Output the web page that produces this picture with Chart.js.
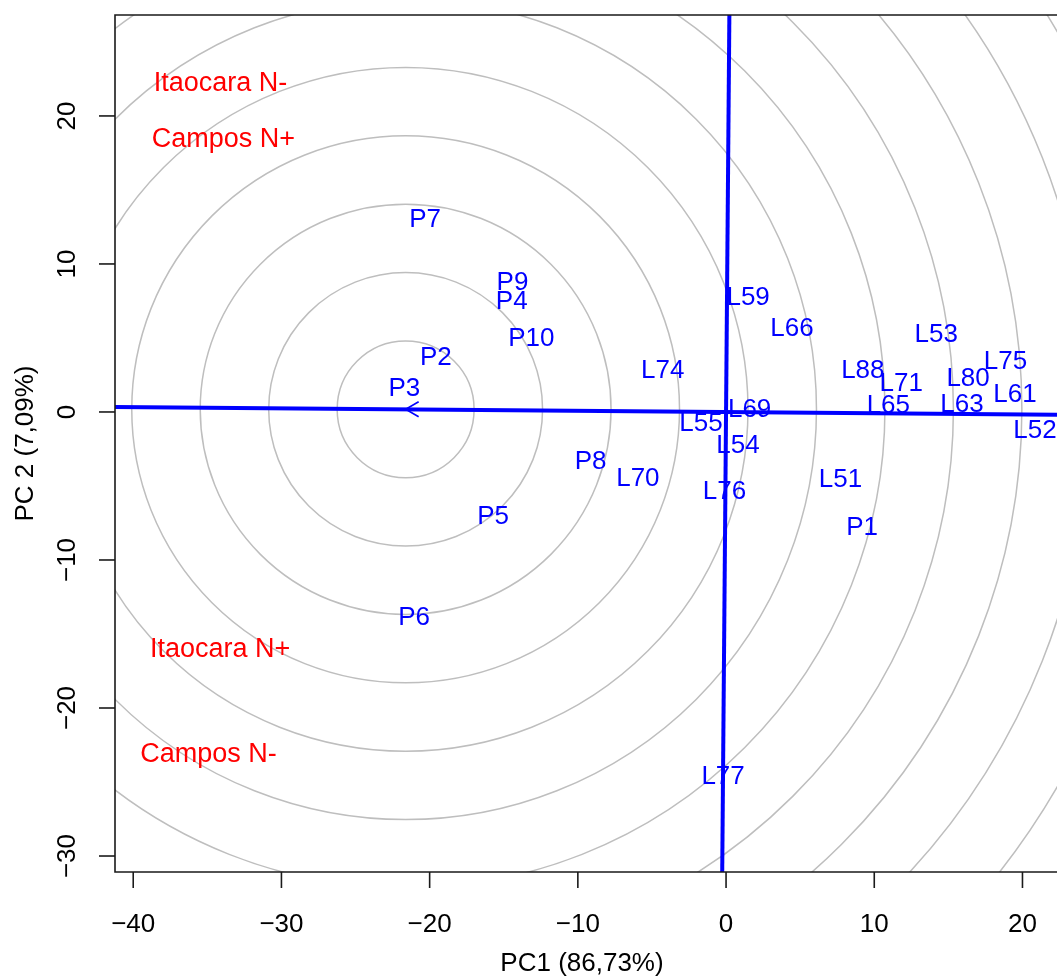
<!DOCTYPE html>
<html>
<head>
<meta charset="utf-8">
<script src="https://cdn.jsdelivr.net/npm/chart.js@4.4.0/dist/chart.umd.min.js"></script>
<style>
    html, body { margin: 0; padding: 0; background: #fff; }
    #wrap { width: 1057px; height: 976px; }
</style>
</head>
<body>
<div id="wrap"><canvas id="biplot" width="1057" height="976"></canvas></div>
<script>
// genotipos (PC1, PC2)
const genNames = ["P1", "P2", "P3", "P4", "P5", "P6", "P7", "P8", "P9", "P10",
    "L51", "L52", "L53", "L54", "L55", "L59", "L61", "L63", "L65", "L66",
    "L69", "L70", "L71", "L74", "L75", "L76", "L77", "L80", "L88"];
const genPC1 = [9.18, -19.58, -21.71, -14.46, -15.72, -21.05, -20.31, -9.14, -14.41, -13.14,
    7.72, 20.84, 14.18, 0.81, -1.69, 1.49, 19.5, 15.92, 10.95, 4.45,
    1.59, -5.95, 11.82, -4.27, 18.85, -0.11, -0.2, 16.33, 9.23];
const genPC2 = [-7.7, 3.82, 1.69, 7.61, -6.96, -13.78, 13.11, -3.2, 8.85, 5.09,
    -4.46, -1.14, 5.39, -2.12, -0.66, 7.84, 1.28, 0.61, 0.54, 5.76,
    0.3, -4.39, 2.05, 2.91, 3.53, -5.27, -24.53, 2.41, 2.95];

// ambientes
const envNames = ["Itaocara N-", "Campos N+", "Itaocara N+", "Campos N-"];
const envPC1 = [-34.11, -33.92, -34.14, -34.92];
const envPC2 = [22.32, 18.59, -15.93, -23.02];

// ambiente medio (seta) e circulos
const envMean = [-21.62, 0.18];
const ringStep = 4.62;
const ringCount = 12;

// eixos
const xTicks = [-40, -30, -20, -10, 0, 10, 20];
const yTicks = [-30, -20, -10, 0, 10, 20];
const xRange = [-41.23, 22.33];
const yRange = [-31.08, 26.82];
const xTitle = "PC1 (86,73%)";
const yTitle = "PC 2 (7,09%)";

const FONT = '"Liberation Sans", Arial, Helvetica, sans-serif';
const BLUE = "#0000FF";
const RED = "#FF0000";

// linha do ambiente medio (passa pela origem) e a perpendicular
const slope = envMean[1] / envMean[0];
const aecLine = xRange.map(x => ({x: x, y: slope * x}));
const aecPerp = yRange.map(y => ({x: -slope * y, y: y}));

const minus = (v) => String(v).replace("-", "\u2212");

//-----------------------
const ringsPlugin = {
    id: "rings",
    beforeDatasetsDraw: (chart) => {
        const {ctx, chartArea, scales} = chart;
        const cx = scales.x.getPixelForValue(envMean[0]);
        const cy = scales.y.getPixelForValue(envMean[1]);
        ctx.save();
        ctx.beginPath();
        ctx.rect(chartArea.left, chartArea.top, chartArea.right - chartArea.left, chartArea.bottom - chartArea.top);
        ctx.clip();
        ctx.strokeStyle = "#BEBEBE";
        ctx.lineWidth = 1.5;
        for (let k = 1; k <= ringCount; k++) {
            const rx = scales.x.getPixelForValue(envMean[0] + k * ringStep) - cx;
            const ry = cy - scales.y.getPixelForValue(envMean[1] + k * ringStep);
            ctx.beginPath();
            ctx.ellipse(cx, cy, rx, ry, 0, 0, Math.PI * 2);
            ctx.stroke();
        }
        ctx.restore();
    }
};

//-----------------------
const labelsPlugin = {
    id: "labels",
    afterDatasetsDraw: (chart) => {
        const {ctx, scales} = chart;
        ctx.save();
        ctx.textAlign = "center";
        ctx.textBaseline = "alphabetic";

        // seta do ambiente medio
        const ax = scales.x.getPixelForValue(envMean[0]);
        const ay = scales.y.getPixelForValue(envMean[1]);
        ctx.strokeStyle = BLUE;
        ctx.lineWidth = 1.6;
        ctx.beginPath();
        ctx.moveTo(ax + 13, ay - 7.5);
        ctx.lineTo(ax, ay);
        ctx.lineTo(ax + 13, ay + 7.5);
        ctx.stroke();

        const gen = chart.getDatasetMeta(0).data;
        ctx.fillStyle = BLUE;
        ctx.font = `26px ${FONT}`;
        gen.forEach((pt, i) => {
            ctx.fillText(genNames[i], pt.x, pt.y + 26 * 0.36);
        });

        const env = chart.getDatasetMeta(1).data;
        ctx.fillStyle = RED;
        ctx.font = `27px ${FONT}`;
        env.forEach((pt, i) => {
            ctx.fillText(envNames[i], pt.x, pt.y + 27 * 0.36);
        });
        ctx.restore();
    }
};

//-----------------------
const axesPlugin = {
    id: "rAxes",
    afterDraw: (chart) => {
        const {ctx, chartArea, scales} = chart;
        const {left, top, right, bottom} = chartArea;
        ctx.save();
        ctx.strokeStyle = "#1a1a1a";
        ctx.lineWidth = 1.6;
        ctx.beginPath();
        ctx.moveTo(right + 2, top);
        ctx.lineTo(left, top);
        ctx.lineTo(left, bottom);
        ctx.lineTo(right + 2, bottom);
        ctx.stroke();

        ctx.fillStyle = "#000";
        ctx.font = `26px ${FONT}`;
        ctx.textAlign = "center";
        ctx.textBaseline = "alphabetic";

        xTicks.forEach(v => {
            const px = scales.x.getPixelForValue(v);
            ctx.beginPath();
            ctx.moveTo(px, bottom);
            ctx.lineTo(px, bottom + 16);
            ctx.stroke();
            ctx.fillText(minus(v), px, bottom + 51 + 26 * 0.36);
        });

        yTicks.forEach(v => {
            const py = scales.y.getPixelForValue(v);
            ctx.beginPath();
            ctx.moveTo(left, py);
            ctx.lineTo(left - 16, py);
            ctx.stroke();
            ctx.save();
            ctx.translate(left - 49, py);
            ctx.rotate(-Math.PI / 2);
            ctx.fillText(minus(v), 0, 26 * 0.36);
            ctx.restore();
        });

        // titulos
        ctx.fillText(xTitle, 582, bottom + 90 + 26 * 0.36);
        ctx.save();
        ctx.translate(left - 91, (top + bottom) / 2);
        ctx.rotate(-Math.PI / 2);
        ctx.fillText(yTitle, 0, 26 * 0.36);
        ctx.restore();
        ctx.restore();
    }
};

//-----------------------
const biplot = new Chart(document.getElementById("biplot"), {
    type: "scatter",
    data: {
        datasets: [
            {
                label: "Genotipos",
                data: genPC1.map((x, i) => ({x: x, y: genPC2[i]})),
                pointRadius: 0,
                pointHoverRadius: 0
            },
            {
                label: "Ambientes",
                data: envPC1.map((x, i) => ({x: x, y: envPC2[i]})),
                pointRadius: 0,
                pointHoverRadius: 0
            },
            {
                label: "AEC",
                data: aecLine,
                showLine: true,
                borderColor: BLUE,
                borderWidth: 4,
                pointRadius: 0
            },
            {
                label: "AEC perpendicular",
                data: aecPerp,
                showLine: true,
                borderColor: BLUE,
                borderWidth: 4,
                pointRadius: 0
            }
        ]
    },
    options: {
        responsive: false,
        devicePixelRatio: 1,
        animation: false,
        layout: {padding: {left: 115, top: 15, right: 0, bottom: 104}},
        plugins: {legend: {display: false}, tooltip: {enabled: false}},
        scales: {
            x: {type: "linear", min: xRange[0], max: xRange[1], display: false},
            y: {type: "linear", min: yRange[0], max: yRange[1], display: false}
        }
    },
    plugins: [ringsPlugin, labelsPlugin, axesPlugin]
});
</script>
</body>
</html>
